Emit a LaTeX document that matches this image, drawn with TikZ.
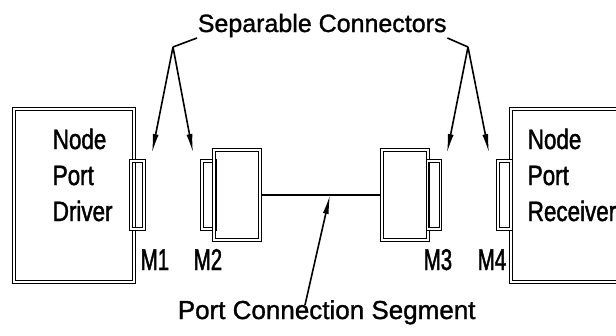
\documentclass[tikz,border=0pt]{standalone}
\usepackage{fontspec}
\setmainfont{Liberation Sans}[FakeBold=1.2]
\newfontfamily\cadfont{Liberation Sans}[FakeStretch=0.8,FakeBold=1.5]
\newfontfamily\cadnarrow{Liberation Sans}[FakeStretch=0.68,FakeBold=1.5]
\usetikzlibrary{arrows.meta}
\begin{document}
\begin{tikzpicture}[x=1pt,y=-1pt,line width=1.6pt,>={Latex[length=19pt,width=6pt]},
	dbl/.style={draw, double, line width=1.1pt, double distance=1.3pt, inner sep=0pt},
	unit/.style={dbl, minimum width=120pt, minimum height=173pt},
	plug/.style={dbl, minimum width=13pt, minimum height=68pt},
	shell/.style={dbl, minimum width=46pt, minimum height=90pt},
	lbl/.style={anchor=base west, inner sep=0pt, align=left, font=\cadfont\fontsize{28}{36}\selectfont},
	mlbl/.style={anchor=base west, inner sep=0pt, font=\cadnarrow\fontsize{30}{36}\selectfont}]
	\useasboundingbox (0,0) rectangle (616,335);
	\clip (0,0) rectangle (616,335);
	\node (Drv) at ( 74, 195.5)	[unit]	{};
	\node (Rcv) at (571, 195.5)	[unit]	{};
	\node (P1) at (137.5, 195)	[plug]	{};
	\node (P2) at (208.5, 195)	[plug]	{};
	\node (S2) at (237, 195)	[shell]	{};
	\node (S3) at (405, 195)	[shell]	{};
	\node (P3) at (434, 195)	[plug]	{};
	\node (P4) at (504.5, 195)	[plug]	{};
	\node (DrvT) at ( 52, 221)	[lbl]	{Node\\Port\\Driver};
	\node (RcvT) at (527, 221)	[lbl]	{Node\\Port\\Receiver};
	\node (M1) at (140, 270)	[mlbl]	{M1};
	\node (M2) at (193, 270)	[mlbl]	{M2};
	\node (M3) at (423, 270)	[mlbl]	{M3};
	\node (M4) at (477, 270)	[mlbl]	{M4};
	\node (Sep) at (197, 32)	[anchor=base west, inner sep=0pt, font=\fontsize{25}{30}\selectfont]	{Separable Connectors};
	\node (Seg) at (177, 319)	[anchor=base west, inner sep=0pt, font=\fontsize{26}{30}\selectfont]	{Port Connection Segment};
	\coordinate (KL) at (173, 47);
	\coordinate (KR) at (468, 47);
	\coordinate (A1) at (152, 153);
	\coordinate (A2) at (193, 153);
	\coordinate (A3) at (447, 153);
	\coordinate (A4) at (489, 153);
	\coordinate (Mid) at (330, 195);
	\coordinate (SegT) at (305, 305);
	\draw[line width=1.3pt] (S2.east) -- (S3.west);
	\draw (Sep.south west) -- (KL);
	\draw (Sep.south east) -- (KR);
	\draw[->] (KL) -- (A1);
	\draw[->] (KL) -- (A2);
	\draw[->] (KR) -- (A3);
	\draw[->] (KR) -- (A4);
	\draw[->] (SegT) -- (Mid);
\end{tikzpicture}
\end{document}
